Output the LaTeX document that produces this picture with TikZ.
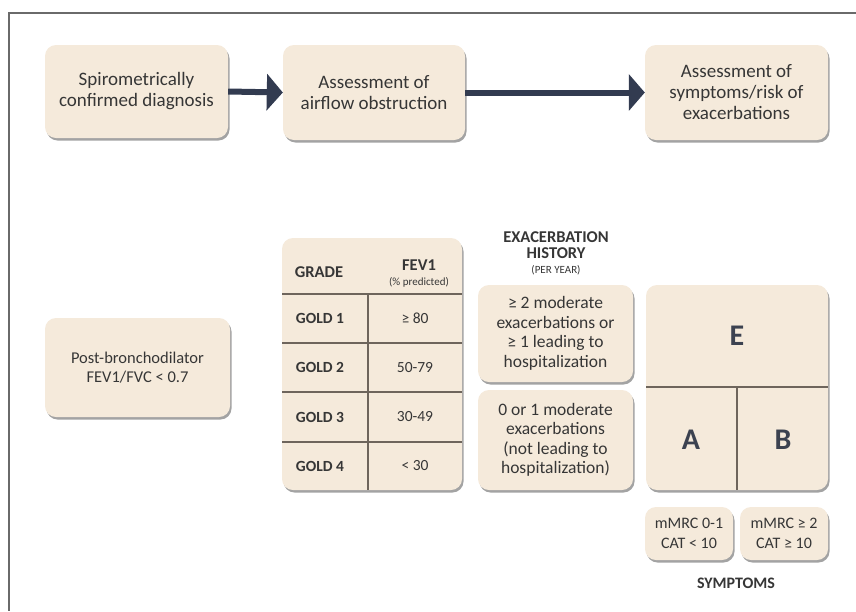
\documentclass[tikz,border=0pt]{standalone}
\usepackage{fontspec}
\setmainfont{Carlito}
\usetikzlibrary{arrows.meta,shadows}

\definecolor{boxfill}{HTML}{F5EADB}
\definecolor{ink}{HTML}{363636}
\definecolor{navy}{HTML}{323B50}
\definecolor{rulecol}{HTML}{6E655C}
\definecolor{framecol}{HTML}{6A6A6A}
\definecolor{lettercol}{HTML}{3C4250}

\tikzset{
  card/.style={rounded corners=11pt, fill=boxfill, draw=none, inner sep=0pt,
    drop shadow={shadow xshift=1.5pt, shadow yshift=-2.5pt, opacity=0.55, fill=black!65}},
  txt/.style={text=ink, align=center, inner sep=0pt},
  bigtxt/.style={txt, font=\fontsize{19}{21}\selectfont},
  midtxt/.style={txt, font=\fontsize{16.5}{19.5}\selectfont},
  histtxt/.style={txt, font=\fontsize{17.5}{19.5}\selectfont},
  celltxt/.style={txt, font=\fontsize{15.5}{17}\selectfont},
  symtxt/.style={txt, font=\fontsize{16}{19.5}\selectfont},
  rowtxt/.style={txt, font=\bfseries\fontsize{15.5}{17}\selectfont},
  headtxt/.style={txt, font=\bfseries\fontsize{16.5}{17}\selectfont},
  smalltxt/.style={txt, font=\fontsize{11}{12}\selectfont},
  letter/.style={text=lettercol, inner sep=0pt, font=\bfseries\fontsize{30}{32}\selectfont},
  flow/.style={draw=navy, line width=6pt, -{Triangle[length=16pt,width=36pt]}},
  grid/.style={draw=rulecol, line width=1.1pt},
}

\begin{document}
\begin{tikzpicture}[x=1pt, y=-1pt]
  % canvas
  \fill[white] (0,0) rectangle (856,611);
  \useasboundingbox (0,0) rectangle (856,611);

  % frame (top and left rules)
  \draw[framecol, line width=1.6pt] (856,13) -- (9,13) -- (9,611);

  % top row: process steps
  \node[card, minimum width=183pt, minimum height=93pt] (diag) at (136.5,91.5) {};
  \node[bigtxt] (diagT) at (diag) {Spirometrically\\confirmed diagnosis};
  \node[card, minimum width=182pt, minimum height=95pt] (airf) at (374,92.5) {};
  \node[bigtxt] (airfT) at (airf) {Assessment of\\airflow obstruction};
  \node[card, minimum width=183pt, minimum height=95pt] (symp) at (736.5,92.5) {};
  \node[bigtxt] (sympT) at (symp) {Assessment of\\symptoms/risk of\\exacerbations};

  \draw[flow] (diag.east) -- (airf.west);
  \draw[flow] (airf.east) -- (symp.west);

  % spirometry criterion
  \node[card, minimum width=185pt, minimum height=99pt] (post) at (137.5,367.5) {};
  \node[midtxt] (postT) at (post) {Post-bronchodilator\\FEV1/FVC < 0.7};

  % GOLD grade table
  \node[card, minimum width=180pt, minimum height=252pt] (tab) at (372,364) {};
  \coordinate (tL1) at (282,294); \coordinate (tR1) at (462,294);
  \coordinate (tL2) at (282,343); \coordinate (tR2) at (462,343);
  \coordinate (tL3) at (282,392); \coordinate (tR3) at (462,392);
  \coordinate (tL4) at (282,442); \coordinate (tR4) at (462,442);
  \coordinate (cTop) at (368,294); \coordinate (cBot) at (368,490);
  \draw[grid] (tL1) -- (tR1);
  \draw[grid] (tL2) -- (tR2);
  \draw[grid] (tL3) -- (tR3);
  \draw[grid] (tL4) -- (tR4);
  \draw[grid] (cTop) -- (cBot);

  \node[headtxt] (hGrade) at (319,272) {GRADE};
  \node[headtxt] (hFev) at (419,265) {FEV1};
  \node[smalltxt] (hPred) at (419,282) {(\% predicted)};
  \node[rowtxt] (g1) at (320,318.5) {GOLD 1};
  \node[rowtxt] (g2) at (320,367.5) {GOLD 2};
  \node[rowtxt] (g3) at (320,417) {GOLD 3};
  \node[rowtxt] (g4) at (320,466) {GOLD 4};
  \node[celltxt] (v1) at (415,318.5) {≥ 80};
  \node[celltxt] (v2) at (415,367.5) {50-79};
  \node[celltxt] (v3) at (415,417) {30-49};
  \node[celltxt] (v4) at (415,466) {< 30};

  % exacerbation history
  \node[headtxt] (exH1) at (556,237) {EXACERBATION};
  \node[headtxt] (exH2) at (556,253.5) {HISTORY};
  \node[smalltxt] (exH3) at (556,270) {(PER YEAR)};
  \node[card, minimum width=155pt, minimum height=97pt] (hiHigh) at (555.5,333.5) {};
  \node[histtxt] (hiHighT) at (hiHigh) {≥ 2 moderate\\exacerbations or\\≥ 1 leading to\\hospitalization};
  \node[card, minimum width=155pt, minimum height=100pt] (hiLow) at (555.5,440) {};
  \node[histtxt] (hiLowT) at (hiLow) {0 or 1 moderate\\exacerbations\\(not leading to\\hospitalization)};

  % ABE assessment grid
  \node[card, minimum width=182pt, minimum height=205pt] (abe) at (737,387.5) {};
  \coordinate (abL) at (646,387); \coordinate (abR) at (828,387);
  \coordinate (abM) at (737,387); \coordinate (abB) at (737,490);
  \draw[grid] (abL) -- (abR);
  \draw[grid] (abM) -- (abB);
  \node[letter] (gE) at (737,336) {E};
  \node[letter] (gA) at (691,440) {A};
  \node[letter] (gB) at (783,440) {B};

  % symptom thresholds
  \node[card, minimum width=88pt, minimum height=53pt] (sLow) at (689,533.5) {};
  \node[symtxt] (sLowT) at (sLow) {mMRC 0-1\\CAT < 10};
  \node[card, minimum width=88pt, minimum height=53pt] (sHigh) at (784,533.5) {};
  \node[symtxt] (sHighT) at (sHigh) {mMRC ≥ 2\\CAT ≥ 10};
  \node[headtxt, font=\bfseries\fontsize{16}{17}\selectfont] (sympLbl) at (736,583) {SYMPTOMS};
\end{tikzpicture}
\end{document}
